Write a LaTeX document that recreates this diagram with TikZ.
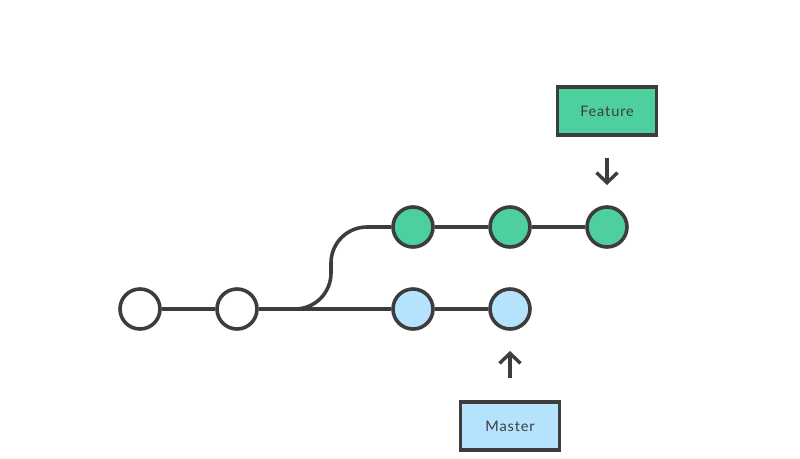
\documentclass[tikz,border=0pt]{standalone}
\usepackage{fontspec}
\setmainfont{Lato}[LetterSpace=6]
\usetikzlibrary{arrows.meta}
\definecolor{ink}{RGB}{61,61,61}
\definecolor{featgreen}{RGB}{77,208,157}
\definecolor{mastblue}{RGB}{181,226,253}
\tikzset{
  x=1pt, y=-1pt,
  commit/.style={circle, draw=ink, line width=3.6pt, minimum size=40pt, inner sep=0pt},
  link/.style={draw=ink, line width=3.6pt},
  label box/.style={draw=ink, line width=3.6pt, minimum width=99pt, minimum height=48pt,
    inner sep=0pt, font=\fontsize{14.5}{16}\selectfont, text=ink},
  pointer/.style={draw=ink, line width=3.4pt, -{Straight Barb[length=10pt, width=21pt, line width=3.4pt]}}
}
\begin{document}
\begin{tikzpicture}
\useasboundingbox (0,0) rectangle (800,458);
% shared history
\node[commit, fill=white] (c1) at (140,309) {};
\node[commit, fill=white] (c2) at (237,309) {};
% master branch
\node[commit, fill=mastblue] (m1) at (413,309) {};
\node[commit, fill=mastblue] (m2) at (510,309) {};
% feature branch
\node[commit, fill=featgreen] (f1) at (413,227) {};
\node[commit, fill=featgreen] (f2) at (510,227) {};
\node[commit, fill=featgreen] (f3) at (607,227) {};
\coordinate (fork) at (280,309);
\draw[link] (c1) -- (c2);
\draw[link] (c2) -- (m1);
\draw[link] (m1) -- (m2);
\draw[link] (f1) -- (f2);
\draw[link] (f2) -- (f3);
\draw[link, rounded corners=36pt] (fork) -- (331,309) -- (331,227) -- (f1.west);
% branch labels
\node[label box, fill=featgreen] (feature) at (607,111) {Feature};
\node[label box, fill=mastblue] (master) at (510,426) {Master};
\draw[pointer] (607,158) -- (607,185);
\draw[pointer] (510,378) -- (510,351);
\end{tikzpicture}
\end{document}
